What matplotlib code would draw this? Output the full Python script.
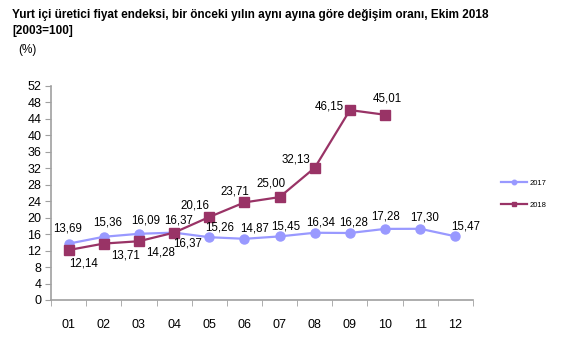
import matplotlib.pyplot as plt

plt.rcParams['font.family'] = ['Liberation Sans', 'DejaVu Sans']

aylar = ["01", "02", "03", "04", "05", "06", "07", "08", "09", "10", "11", "12"]
yil2017 = [13.69, 15.36, 16.09, 16.37, 15.26, 14.87, 15.45, 16.34, 16.28, 17.28, 17.30, 15.47]
yil2018 = [12.14, 13.71, 14.28, 16.37, 20.16, 23.71, 25.00, 32.13, 46.15, 45.01]
yticks = list(range(0, 53, 4))

# etiket kaydirmalari (piksel)
ofs2017 = [(-1, 15), (4, 14), (7, 13), (5, 12), (10, 10), (10, 10), (6, 10),
           (6, 10), (4, 11), (0, 12), (4, 11), (10, 10)]
ofs2018 = [(15, -13), (22, -12), (22, -11), (14, -11), (-14, 12), (-10, 11),
           (-9, 14), (-19, 8), (-21, 4), (2, 16)]

renk17 = "#9999FF"
renk18 = "#993366"
eksen = "#A0A0A0"

fig = plt.figure(figsize=(5.85, 3.47), dpi=100)
ax = fig.add_axes([51/585, 1-300/347, 422/585, 214/347])

x17 = list(range(len(yil2017)))
x18 = list(range(len(yil2018)))
ax.plot(x17, yil2017, "-o", color=renk17, lw=1.6, ms=6.5, label="2017")
ax.plot(x18, yil2018, "-s", color=renk18, lw=1.6, ms=6.5, label="2018")

for i, v in enumerate(yil2017):
    ax.annotate(f"{v:.2f}".replace(".", ","), (i, v), xytext=ofs2017[i],
                textcoords="offset pixels", ha="center", va="center", fontsize=8.3)
for i, v in enumerate(yil2018):
    ax.annotate(f"{v:.2f}".replace(".", ","), (i, v), xytext=ofs2018[i],
                textcoords="offset pixels", ha="center", va="center", fontsize=8.3)

ax.set_xlim(-0.5, len(aylar) - 0.5)
ax.set_ylim(0, 52)
ax.set_yticks(yticks)
ax.set_xticks(range(len(aylar)))
ax.set_xticklabels(aylar)
ax.set_xticks([i - 0.5 for i in range(len(aylar) + 1)], minor=True)
ax.tick_params(axis="x", which="major", length=0, pad=14, labelsize=9)
ax.tick_params(axis="x", which="minor", length=4, color=eksen, direction="out")
ax.tick_params(axis="y", length=4, color=eksen, labelsize=9, pad=3)
for s in ["top", "right"]:
    ax.spines[s].set_visible(False)
for s in ["left", "bottom"]:
    ax.spines[s].set_color(eksen)
    ax.spines[s].set_linewidth(1.2)

leg = ax.legend(loc="center left", bbox_to_anchor=(1.05, 0.495), frameon=False,
                fontsize=5.5, handlelength=3.4, labelspacing=1.9, handletextpad=0.3,
                markerscale=0.5)

fig.text(12/585, 1-15/347, "Yurt içi üretici fiyat endeksi, bir önceki yılın aynı ayına göre değişim oranı, Ekim 2018",
         fontsize=8.5, fontweight="bold", va="center", ha="left")
fig.text(12/585, 1-31/347, "[2003=100]", fontsize=8.5, fontweight="bold", va="center", ha="left")
fig.text(18/585, 1-50/347, "(%)", fontsize=8.5, va="center", ha="left")

fig.savefig("out.png", dpi=100)
